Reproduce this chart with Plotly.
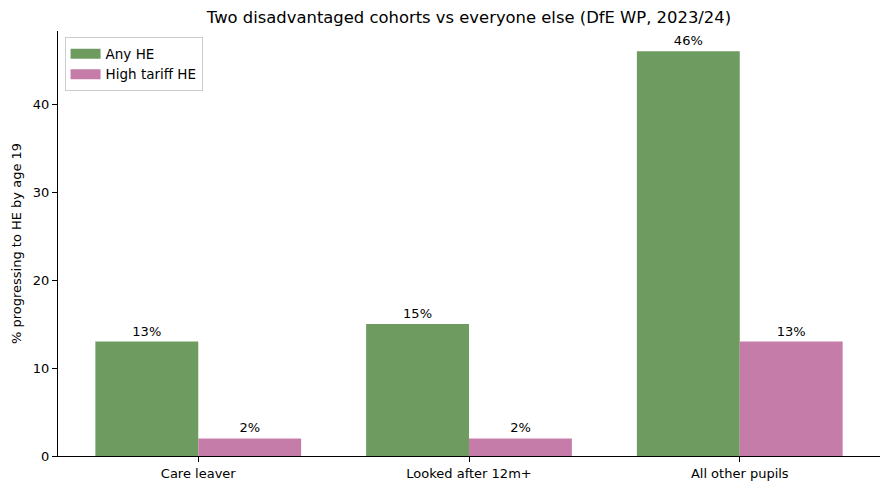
import plotly.graph_objects as go

categories = ["Care leaver", "Looked after 12m+", "All other pupils"]
any_he = [13, 15, 46]
high_tariff = [2, 2, 13]
series_names = ["Any HE", "High tariff HE"]
colors = ["#6e9b60", "#c57ca9"]

xpos = list(range(len(categories)))
w = 0.38
font = "DejaVu Sans"

fig = go.Figure()
for i, (name, vals, col) in enumerate(zip(series_names, [any_he, high_tariff], colors)):
    off = -w if i == 0 else 0
    fig.add_trace(go.Bar(
        x=xpos, y=vals, name=name, marker=dict(color=col, line=dict(width=0)),
        width=w, offset=off, showlegend=False,
        text=[f"{v}%" for v in vals], textposition="outside",
        textfont=dict(family=font, size=13, color="black"),
        cliponaxis=False,
    ))
# legend entries drawn as wide patches
for name, col in zip(series_names, colors):
    fig.add_trace(go.Scatter(
        x=[None], y=[None], mode="lines", name=name,
        line=dict(color=col, width=10), showlegend=True,
    ))

fig.update_layout(
    width=890, height=490,
    margin=dict(l=58, r=10, t=31, b=34),
    plot_bgcolor="white", paper_bgcolor="white",
    font=dict(family=font, size=13, color="black"),
    title=dict(text="Two disadvantaged cohorts vs everyone else (DfE WP, 2023/24)",
               xref="paper", x=0.5, xanchor="center", y=1 - 17/490, yanchor="middle",
               font=dict(size=16.4)),
    barmode="overlay",
    showlegend=True,
    legend=dict(x=0.008, y=0.985, xanchor="left", yanchor="top",
                bordercolor="#cccccc", borderwidth=1, bgcolor="white",
                font=dict(size=13.5), tracegroupgap=2, itemwidth=30),
)
fig.update_xaxes(
    range=[-0.518, 2.518], tickvals=xpos, ticktext=categories,
    showline=True, linecolor="black", linewidth=1,
    ticks="outside", ticklen=5, tickcolor="black", showgrid=False, zeroline=False,
)
fig.update_yaxes(
    range=[0, 48.3], tickvals=[0, 10, 20, 30, 40],
    showline=True, linecolor="black", linewidth=1,
    ticks="outside", ticklen=5, tickcolor="black", showgrid=False, zeroline=False,
    title=dict(text="% progressing to HE by age 19", font=dict(size=13), standoff=8),
)
fig.update_traces(selector=dict(type="bar"), textangle=0)
fig.write_html("out.html")
